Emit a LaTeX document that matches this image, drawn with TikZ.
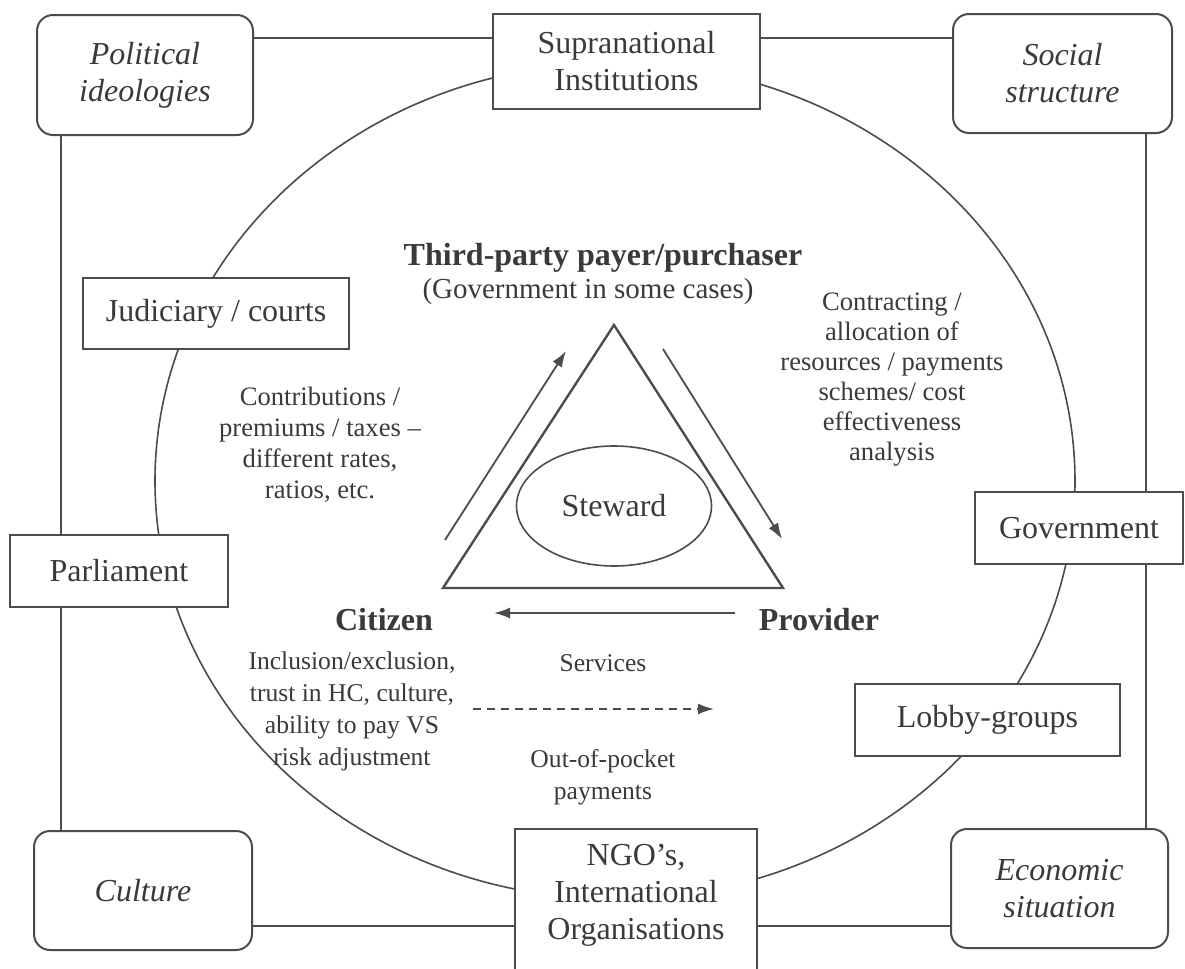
\documentclass[tikz,border=0pt]{standalone}
\usepackage{fontspec}
\setmainfont{Liberation Serif}
\usetikzlibrary{arrows.meta,backgrounds,shapes.geometric}
\definecolor{ink}{HTML}{3A3A3A}
\definecolor{rule}{HTML}{4C4C4C}

\begin{document}
\begin{tikzpicture}[x=0.5pt,y=-0.5pt,
  box/.style={draw=rule, line width=1pt, fill=white, inner sep=2pt, align=center,
    text=ink, font=\fontsize{16}{18.5}\selectfont},
  rbox/.style={box, rounded corners=8pt, font=\fontsize{16}{18.5}\selectfont\itshape},
  frame/.style={draw=rule, line width=1pt},
  rim/.style={draw=rule, line width=0.8pt},
  tri/.style={draw=rule, line width=1.2pt, line join=miter},
  flow/.style={draw=rule, line width=0.9pt, -{Latex[length=8pt,width=5.5pt]}},
  lbl/.style={align=center, text=ink, inner sep=0pt, font=\fontsize{13.3}{15.6}\selectfont},
  head/.style={align=center, text=ink, inner sep=0pt, font=\fontsize{16}{18}\selectfont\bfseries}
]
\useasboundingbox (0,0) rectangle (1185,969);

% corner themes and actors
\node[rbox, minimum width=108pt, minimum height=60pt] (pol) at (145,75) {Political\\ideologies};
\node[box, minimum width=133.5pt, minimum height=47.5pt] (sup) at (626.5,61.5) {Supranational\\Institutions};
\node[rbox, minimum width=109.5pt, minimum height=59.5pt] (soc) at (1062.5,73.5) {Social\\structure};
\node[box, minimum width=133pt, minimum height=35.5pt] (jud) at (216,313.5) {Judiciary / courts};
\node[box, minimum width=109pt, minimum height=36pt] (par) at (119,571) {Parliament};
\node[box, minimum width=104pt, minimum height=36pt] (gov) at (1079,528) {Government};
\node[box, minimum width=132.5pt, minimum height=36pt] (lob) at (987.5,720) {Lobby-groups};
\node[rbox, minimum width=109pt, minimum height=59.5pt] (cul) at (143,890.5) {Culture};
\node[box, minimum width=121pt, minimum height=75pt] (ngo) at (636,904) {};
\node[align=center, text=ink, font=\fontsize{16}{18.5}\selectfont] (ngotext) at (636,895) {NGO’s,\\International\\Organisations};
\node[rbox, minimum width=108.5pt, minimum height=59.5pt] (eco) at (1059.5,888.5) {Economic\\situation};

% outer frame and surrounding ring, behind the boxes
\coordinate (ytop) at (0,38);
\coordinate (ybot) at (0,926);
\coordinate (xl) at (61,0);
\coordinate (xr) at (1146,0);
\begin{scope}[on background layer]
  \fill[white] (0,0) rectangle (1185,969);
  \draw[rim] (615,481) ellipse [x radius=230pt, y radius=209pt];
  \draw[frame] (pol.east |- ytop) -- (sup.west |- ytop);
  \draw[frame] (sup.east |- ytop) -- (soc.west |- ytop);
  \draw[frame] (xl |- pol.south) -- (xl |- cul.north);
  \draw[frame] (xr |- soc.south) -- (xr |- eco.north);
  \draw[frame] (cul.east |- ybot) -- (ngo.west |- ybot);
  \draw[frame] (ngo.east |- ybot) -- (eco.west |- ybot);
\end{scope}

% central triangle
\coordinate (apex) at (614,325);
\coordinate (bl) at (443,588);
\coordinate (br) at (783,588);
\draw[tri] (apex) -- (br) -- (bl) -- cycle;
\node[draw=rule, line width=0.8pt, ellipse, minimum width=97.5pt, minimum height=60pt,
  text=ink, font=\fontsize{16}{18}\selectfont] (stew) at (614,506) {Steward};

% flows between the three parties
\coordinate (upS) at (445,540);
\coordinate (upE) at (566,351);
\coordinate (dnS) at (663,349);
\coordinate (dnE) at (782,539);
\coordinate (svS) at (735,613);
\coordinate (svE) at (494,613);
\coordinate (opS) at (473,709);
\coordinate (opE) at (714,709);
\draw[flow] (upS) -- (upE);
\draw[flow] (dnS) -- (dnE);
\draw[flow] (svS) -- (svE);
\draw[flow, dash pattern=on 4pt off 3pt] (opS) -- (opE);

% labels
\node[head] (tpp) at (603,258) {Third-party payer/purchaser};
\node[lbl, font=\fontsize{14.5}{17}\selectfont] (gisc) at (588,292) {(Government in some cases)};
\node[lbl, font=\fontsize{13.3}{15}\selectfont] (contr) at (892,380) {Contracting /\\allocation of\\resources / payments\\schemes/ cost\\effectiveness\\analysis};
\node[lbl] (contrib) at (320,445) {Contributions /\\premiums / taxes –\\different rates,\\ratios, etc.};
\node[head] (cit) at (384,620) {Citizen};
\node[head] (prov) at (819,620) {Provider};
\node[lbl, font=\fontsize{12.8}{16}\selectfont] (incl) at (352,711) {Inclusion/exclusion,\\trust in HC, culture,\\ability to pay VS\\risk adjustment};
\node[lbl, font=\fontsize{12.8}{16}\selectfont] (serv) at (603,663) {Services};
\node[lbl, font=\fontsize{12.8}{16}\selectfont] (oop) at (603,777) {Out-of-pocket\\payments};
\end{tikzpicture}
\end{document}
